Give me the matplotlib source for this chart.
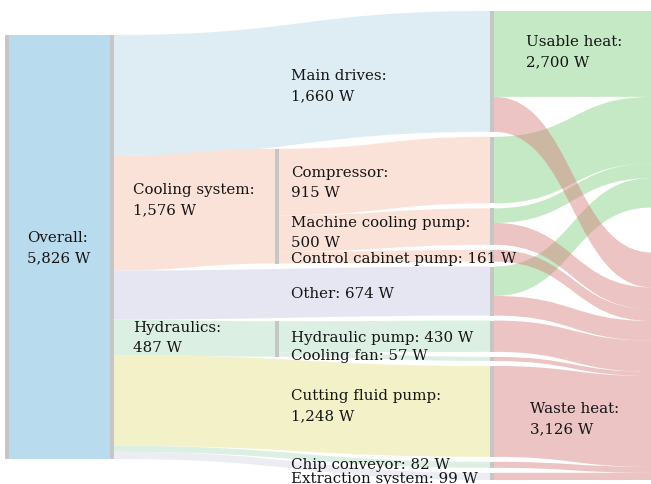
import matplotlib
matplotlib.use("Agg")
import matplotlib.pyplot as plt
from matplotlib.path import Path
from matplotlib.patches import PathPatch, Rectangle
import numpy as np

# ---------------- data ----------------
total_name = "Overall"
total_value = 5826
level1_names = ["Main drives", "Cooling system", "Other", "Hydraulics",
                "Cutting fluid pump", "Chip conveyor", "Extraction system"]
level1_values = [1660, 1576, 674, 487, 1248, 82, 99]
cooling_names = ["Compressor", "Machine cooling pump", "Control cabinet pump"]
cooling_values = [915, 500, 161]
hydraulics_names = ["Hydraulic pump", "Cooling fan"]
hydraulics_values = [430, 57]
consumer_names = ["Main drives", "Compressor", "Machine cooling pump",
                  "Control cabinet pump", "Other", "Hydraulic pump", "Cooling fan",
                  "Cutting fluid pump", "Chip conveyor", "Extraction system"]
usable_values = [1180, 915, 200, 0, 405, 0, 0, 0, 0, 0]
waste_values = [480, 0, 300, 161, 269, 430, 57, 1248, 82, 99]
sink_names = ["Usable heat", "Waste heat"]
sink_values = [2700, 3126]

# ---------------- style / layout ----------------
W, H = 651, 485
col_x = [5, 110, 275, 490, 652]
node_w = 4
top, bottom, gap = 12, 481, 5
node_color = "#c6c6c6"
text_color = "#141414"
FONT = "DejaVu Serif"
FS = 10.8
flow_colors = {
    "Overall": "#b9dbee",
    "Main drives": "#deedf4",
    "Cooling system": "#fbe2d8",
    "Other": "#e6e6f2",
    "Hydraulics": "#dcefe3",
    "Cutting fluid pump": "#f3f1c7",
    "Chip conveyor": "#dcefe3",
    "Extraction system": "#ecedf3",
}
usable_color, waste_color, heat_alpha = "#80d07c", "#d57c7c", 0.45
two_line = {"Overall", "Main drives", "Cooling system", "Hydraulics", "Compressor",
            "Machine cooling pump", "Cutting fluid pump", "Usable heat", "Waste heat"}
label_nudge = {"Cooling system": -14, "Chip conveyor": 8, "Extraction system": 13,
               "Usable heat": -3, "Waste heat": 6, "Machine cooling pump": -2}

fig = plt.figure(figsize=(W / 100, H / 100), dpi=100)
ax = fig.add_axes([0, 0, 1, 1])
ax.set_xlim(0, W)
ax.set_ylim(H, 0)
ax.axis("off")

n3 = len(consumer_names)
s = (bottom - top - gap * (n3 - 1)) / total_value  # px per W


def bez(x0, ya, x1, yb, n=60):
    t = np.linspace(0, 1, n)
    xm = (x0 + x1) / 2
    x = x0 * (1 - t) ** 3 + 3 * xm * t * (1 - t) ** 2 + 3 * xm * t ** 2 * (1 - t) + x1 * t ** 3
    y = ya * ((1 - t) ** 3 + 3 * t * (1 - t) ** 2) + yb * (3 * t ** 2 * (1 - t) + t ** 3)
    return x, y


def flow(x0, y0, x1, y1, h, color, alpha=1.0, z=1):
    xm = (x0 + x1) / 2
    verts = [(x0, y0), (xm, y0), (xm, y1), (x1, y1),
             (x1, y1 + h), (xm, y1 + h), (xm, y0 + h), (x0, y0 + h), (x0, y0)]
    codes = [Path.MOVETO, Path.CURVE4, Path.CURVE4, Path.CURVE4,
             Path.LINETO, Path.CURVE4, Path.CURVE4, Path.CURVE4, Path.CLOSEPOLY]
    ax.add_patch(PathPatch(Path(verts, codes), facecolor=color, edgecolor="none",
                           alpha=alpha, zorder=z, antialiased=True))
    return (x0, y0, x1, y1, h)


def center_at(fl, xq):
    x0, y0, x1, y1, h = fl
    if xq <= x0:
        return y0 + h / 2
    bx, by = bez(x0, y0, x1, y1, 200)
    return np.interp(xq, bx, by) + h / 2


def node(x, y, h):
    ax.add_patch(Rectangle((x, y), node_w, h, facecolor=node_color, edgecolor="none", zorder=3))


def label(name, value, x, y):
    sep = "\n" if name in two_line else " "
    y = y + label_nudge.get(name, 0)
    ax.text(x, y, f"{name}:{sep}{value:,} W", ha="left", va="center", fontsize=FS,
            family=FONT, color=text_color, linespacing=1.55, zorder=5)


# column 3 node positions
consumer_vals = [level1_values[0]] + cooling_values + [level1_values[2]] + hydraulics_values + level1_values[4:]
y3 = []
cur = top
for v in consumer_vals:
    y3.append(cur)
    cur += v * s + gap

# column 0 / 1
h_tot = total_value * s
y1 = (top + bottom) / 2 - h_tot / 2 + 1.5
node(col_x[0], y1, h_tot)
node(col_x[1], y1, h_tot)
ov = flow(col_x[0] + node_w, y1, col_x[1], y1, h_tot, flow_colors["Overall"])
label(total_name, total_value, 27, y1 + h_tot / 2)

# level1 flows
direct_target = {"Main drives": 0, "Other": 4, "Cutting fluid pump": 7,
                 "Chip conveyor": 8, "Extraction system": 9}
children = {"Cooling system": (cooling_names, cooling_values, 1),
            "Hydraulics": (hydraulics_names, hydraulics_values, 5)}
cur = y1
x_from = col_x[1] + node_w
for name, v in zip(level1_names, level1_values):
    h = v * s
    c = flow_colors[name]
    if name in direct_target:
        fl = flow(x_from, cur, col_x[3], y3[direct_target[name]], h, c)
        label(name, v, 291, center_at(fl, 291))
    else:
        cn, cv, first = children[name]
        last = first + len(cn) - 1
        out_c = (y3[first] + y3[last] + cv[-1] * s) / 2
        in_c = cur + h / 2
        y2 = (out_c + in_c) / 2 - h / 2
        node(col_x[2], y2, h)
        fl = flow(x_from, cur, col_x[2], y2, h, c)
        label(name, v, 133, center_at(fl, 133))
        cc = y2
        for k, (nm, vv) in enumerate(zip(cn, cv)):
            hh = vv * s
            f2 = flow(col_x[2] + node_w, cc, col_x[3], y3[first + k], hh, c)
            label(nm, vv, 291, center_at(f2, 291))
            cc += hh
    cur += h

# column 3 nodes and heat flows
for yy, v in zip(y3, consumer_vals):
    node(col_x[3], yy, v * s)

yu = top
yw = bottom - sink_values[1] * s
u_flows, w_flows = [], []
for i in range(n3):
    yy = y3[i]
    hu = usable_values[i] * s
    hw = waste_values[i] * s
    if hu > 0:
        u_flows.append((consumer_names[i], flow(col_x[3] + node_w, yy, col_x[4], yu, hu,
                                                usable_color, heat_alpha, z=1.5)))
        yu += hu
    if hw > 0:
        w_flows.append((consumer_names[i], flow(col_x[3] + node_w, yy + hu, col_x[4], yw, hw,
                                                waste_color, heat_alpha, z=2)))
        yw += hw

# sink labels placed on their largest inflow
bu = max(u_flows, key=lambda t: t[1][4])[1]
bw = max(w_flows, key=lambda t: t[1][4])[1]
label(sink_names[0], sink_values[0], 526, center_at(bu, 526))
label(sink_names[1], sink_values[1], 530, center_at(bw, 530))

fig.savefig("out.png", dpi=100)
